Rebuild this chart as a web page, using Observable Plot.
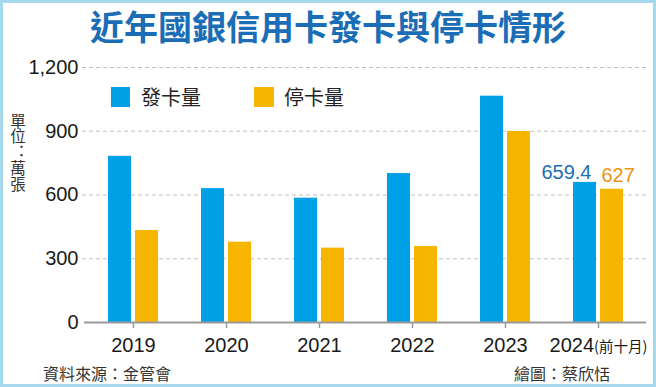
<!DOCTYPE html>
<html>
<head>
<meta charset="utf-8">
<script src="https://cdn.jsdelivr.net/npm/d3@7"></script>
<script src="https://cdn.jsdelivr.net/npm/@observablehq/plot@0.6"></script>
<style>
  html, body { margin: 0; padding: 0; background: #fff; }
  #wrap { position: relative; width: 656px; height: 387px; overflow: hidden; background: #fff; }
  #frame { position: absolute; left: 0; top: 0; width: 656px; height: 387px; box-sizing: border-box; border: 3px solid #a6d9f0; pointer-events: none; }
  .cjk { font-family: "Noto Sans CJK TC", "Noto Sans CJK SC", sans-serif; position: absolute; white-space: nowrap; }
  #title { left: 0; width: 656px; top: 9px; text-align: center; font-size: 34px; line-height: 34px; font-weight: 700; color: #1b6db5; }
  #unit { left: 8px; width: 19px; top: 112.5px; color: #333; writing-mode: vertical-rl; text-orientation: upright;
          font-size: 15.5px; line-height: 19px; letter-spacing: 0.3px; font-feature-settings: "vert" 0, "vrt2" 0; }
  #source { left: 43px; top: 365px; font-size: 16px; line-height: 16px; color: #333; }
  #credit { left: 514px; top: 365px; font-size: 16px; line-height: 16px; color: #333; }
  .sw { position: absolute; width: 19.5px; height: 19.5px; top: 87.3px; }
  .lg { top: 86.5px; font-size: 20px; line-height: 20px; color: #222; }
  #chart { position: absolute; left: 0; top: 0; }
</style>
</head>
<body>
<div id="wrap">
  <div id="chart"></div>
  <div id="title" class="cjk"></div>
  <div id="unit" class="cjk"></div>
  <div id="legend"></div>
  <div id="source" class="cjk"></div>
  <div id="credit" class="cjk"></div>
  <div id="frame"></div>
</div>
<script>
// ---- data ----
const years = ["2019", "2020", "2021", "2022", "2023", "2024"];
const issued = [782, 630, 585, 701, 1065, 659.4];   // 發卡量 (萬張)
const stopped = [433, 378, 350, 358, 899, 627];     // 停卡量 (萬張)
const seriesNames = ["發卡量", "停卡量"];
const seriesColors = ["#00a0e6", "#f7b500"];
const labelColors = ["#1b6db5", "#ec9412"];
const yTicks = [0, 300, 600, 900, 1200];
const labeledYear = "2024";
const noteYear = "2024";
const noteText = "(前十月)";
const titleText = "近年國銀信用卡發卡與停卡情形";
const unitText = "單位：萬張";
const sourceText = "資料來源：金管會";
const creditText = "繪圖：蔡欣恬";

const rows = years.map((year, i) => ({year, issued: issued[i], stopped: stopped[i]}));
const labeled = rows.filter(d => d.year === labeledYear);

const chart = Plot.plot({
  width: 656,
  height: 387,
  marginLeft: 85,
  marginRight: 10,
  marginTop: 67,
  marginBottom: 65,
  style: {fontFamily: "'Liberation Sans', Arial, sans-serif", background: "transparent", overflow: "visible"},
  x: {domain: years, paddingInner: 0.465, paddingOuter: 0.2325},
  y: {domain: [0, 1200]},
  marks: [
    Plot.ruleY(yTicks.filter(d => d > 0), {stroke: "#c2c2c2", strokeWidth: 1, strokeDasharray: "4,3", insetLeft: -3}),
    Plot.barY(rows, {x: "year", y: "issued", fill: seriesColors[0], insetRight: 27}),
    Plot.barY(rows, {x: "year", y: "stopped", fill: seriesColors[1], insetLeft: 27}),
    Plot.ruleY([0], {stroke: "#9a9a9a", strokeWidth: 2, insetLeft: -1}),
    Plot.axisX({tickSize: 6, tickPadding: 9, fontSize: 20, stroke: "#9a9a9a", strokeWidth: 1.5, fill: "#1a1a1a", label: null}),
    Plot.axisY({ticks: yTicks, tickSize: 0, tickPadding: 7, fontSize: 20, tickFormat: d3.format(","), fill: "#1a1a1a", label: null}),
    Plot.text(labeled, {x: "year", y: "issued", text: d => String(d.issued), textAnchor: "end", lineAnchor: "bottom", dx: -7, dy: -3, fill: labelColors[0], fontSize: 20}),
    Plot.text(labeled, {x: "year", y: "stopped", text: d => String(d.stopped), textAnchor: "start", lineAnchor: "bottom", dx: 3, dy: -7, fill: labelColors[1], fontSize: 20})
  ]
});
document.getElementById("chart").appendChild(chart);

// append small note to the 2024 tick label
d3.select(chart).selectAll("text").each(function() {
  const t = d3.select(this);
  if (this.textContent === noteYear && this.closest("[aria-label='x-axis tick label']")) {
    t.append("tspan")
      .attr("font-size", 14.5)
      .attr("font-family", "'Noto Sans CJK TC', sans-serif")
      .text(noteText);
  }
});

// texts
document.getElementById("title").textContent = titleText;
document.getElementById("unit").textContent = unitText;
document.getElementById("source").textContent = sourceText;
document.getElementById("credit").textContent = creditText;

// legend
const legend = document.getElementById("legend");
const swLeft = [110.7, 254];
const txLeft = [141, 284];
seriesNames.forEach((name, i) => {
  const sw = document.createElement("div");
  sw.className = "sw";
  sw.style.left = swLeft[i] + "px";
  sw.style.background = seriesColors[i];
  legend.appendChild(sw);
  const tx = document.createElement("div");
  tx.className = "cjk lg";
  tx.style.left = txLeft[i] + "px";
  tx.textContent = name;
  legend.appendChild(tx);
});
</script>
</body>
</html>
